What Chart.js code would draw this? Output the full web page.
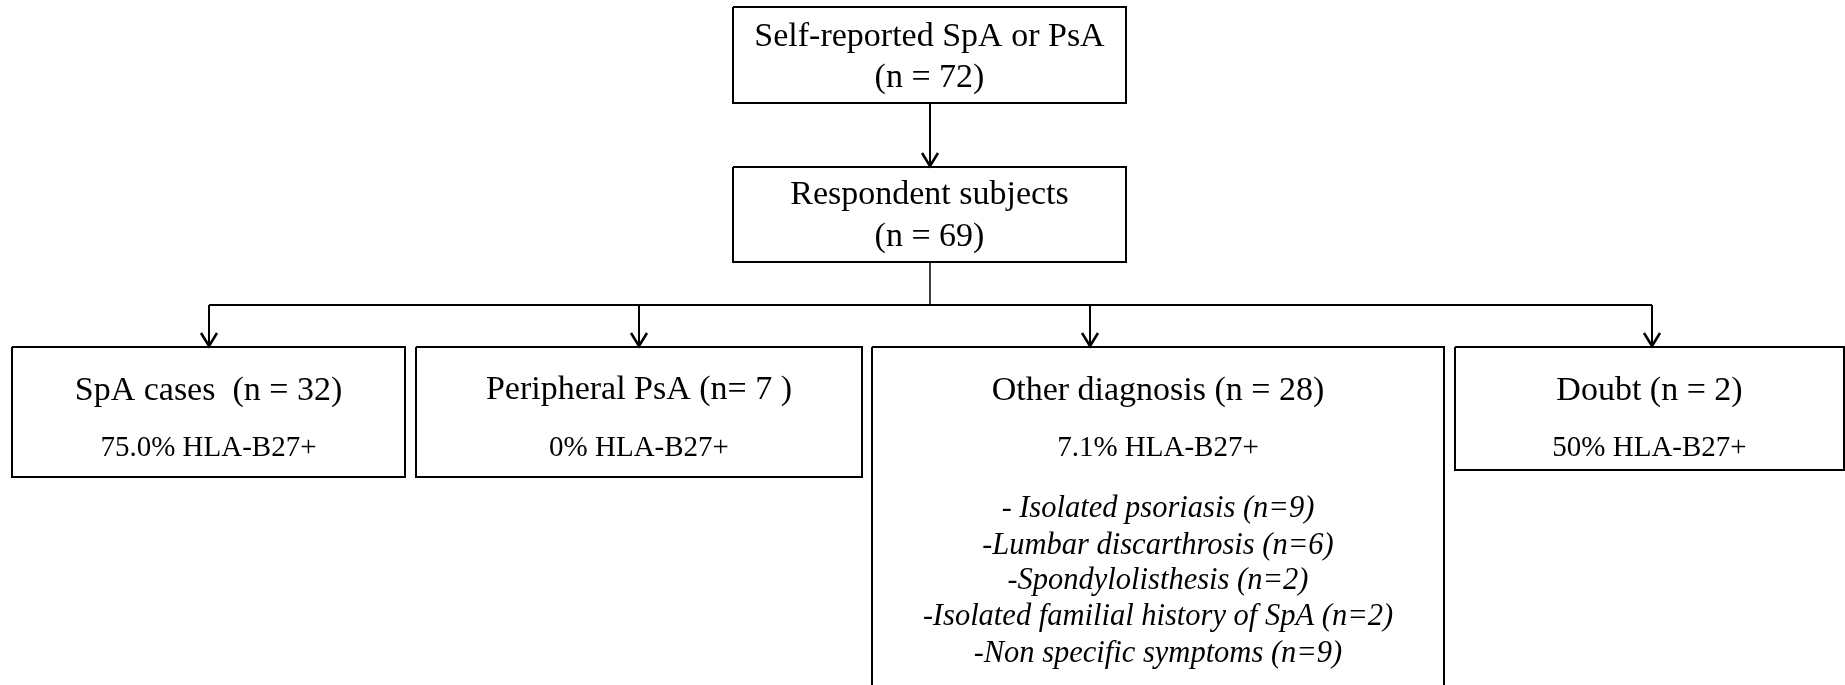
<!DOCTYPE html>
<html>
<head>
<meta charset="utf-8">
<script src="https://cdn.jsdelivr.net/npm/chart.js@4"></script>
<style>
  body { margin: 0; background: #fff; }
  #flow { display: block; }
</style>
</head>
<body>
<canvas id="flow" width="1845" height="685"></canvas>
<script>
const nodeTitles = ['Self-reported SpA or PsA', 'Respondent subjects', 'SpA cases', 'Peripheral PsA', 'Other diagnosis', 'Doubt'];
const nodeCounts = [72, 69, 32, 7, 28, 2];
const hlaB27Pct = [null, null, '75.0', '0', '7.1', '50'];
const otherDiagnoses = ['Isolated psoriasis', 'Lumbar discarthrosis', 'Spondylolisthesis', 'Isolated familial history of SpA', 'Non specific symptoms'];
const otherCounts = [9, 6, 2, 2, 9];

// layout of the boxes (x0, x1, y0, y1 in scale units) and how each label is written
const boxes = [
    { x0: 733, x1: 1126, y0: 7, y1: 103, fmt: (t, n) => [t, '(n = ' + n + ')'], base: [46, 87] },
    { x0: 733, x1: 1126, y0: 167, y1: 262, fmt: (t, n) => [t, '(n = ' + n + ')'], base: [204, 246] },
    { x0: 12, x1: 405, y0: 347, y1: 477, fmt: (t, n) => [t + '  (n = ' + n + ')'], base: [400] },
    { x0: 416, x1: 862, y0: 347, y1: 477, fmt: (t, n) => [t + ' (n= ' + n + ' )'], base: [399] },
    { x0: 872, x1: 1444, y0: 347, y1: 720, fmt: (t, n) => [t + ' (n = ' + n + ')'], base: [400] },
    { x0: 1455, x1: 1844, y0: 347, y1: 470, fmt: (t, n) => [t + ' (n = ' + n + ')'], base: [400] }
];
const arrowX = [209, 639, 1090, 1652];   // where each branch drops into its box
const stemX = 930;
const pctBase = 456;
const listBase = [517, 554, 589, 625, 662];
const busY = 305;

const boxDatasets = boxes.map(b => ({
    data: [{x: b.x0, y: b.y0}, {x: b.x1, y: b.y0}, {x: b.x1, y: b.y1}, {x: b.x0, y: b.y1}, {x: b.x0, y: b.y0}],
    showLine: true, borderColor: '#000', borderWidth: 2, pointRadius: 0, clip: false
}));

const cx = b => (b.x0 + b.x1) / 2;
const lower = boxes.slice(2);
const connectorSets = [
    [{x: stemX, y: boxes[0].y1}, {x: stemX, y: boxes[1].y0}],
    [{x: stemX, y: boxes[1].y1}, {x: stemX, y: busY}],
    [{x: arrowX[0], y: busY}, {x: arrowX[arrowX.length - 1], y: busY}]
];
lower.forEach((b, i) => connectorSets.push([{x: arrowX[i], y: busY}, {x: arrowX[i], y: b.y0}]));
const lineDatasets = connectorSets.map((pts, i) => ({
    data: pts, showLine: true, borderColor: '#000', borderWidth: i === 1 ? 1.5 : 2, pointRadius: 0, clip: false
}));

const flowText = {
    id: 'flowText',
    afterDatasetsDraw(chart) {
        const ctx = chart.ctx;
        const xs = chart.scales.x, ys = chart.scales.y;
        ctx.save();
        ctx.fillStyle = '#000';
        ctx.strokeStyle = '#000';
        ctx.textAlign = 'center';
        ctx.textBaseline = 'alphabetic';

        // arrow heads
        ctx.lineWidth = 2.5;
        const tips = [{x: stemX, y: boxes[1].y0}].concat(lower.map((b, i) => ({x: arrowX[i], y: b.y0})));
        tips.forEach(t => {
            const px = xs.getPixelForValue(t.x), py = ys.getPixelForValue(t.y);
            ctx.beginPath();
            ctx.moveTo(px - 8, py - 14);
            ctx.lineTo(px, py - 1);
            ctx.lineTo(px + 8, py - 14);
            ctx.stroke();
        });

        boxes.forEach((b, i) => {
            const px = xs.getPixelForValue(cx(b));
            const lines = b.fmt(nodeTitles[i], nodeCounts[i]);
            ctx.font = '34px "Liberation Serif"';
            lines.forEach((s, k) => ctx.fillText(s, px, ys.getPixelForValue(b.base[k])));
            if (hlaB27Pct[i] !== null) {
                ctx.font = '29px "Liberation Serif"';
                ctx.fillText(hlaB27Pct[i] + '% HLA-B27+', px, ys.getPixelForValue(pctBase));
            }
        });

        // list of other diagnoses: upright dash, italic text
        const ob = boxes[4];
        const ocx = xs.getPixelForValue(cx(ob));
        ctx.textAlign = 'left';
        otherDiagnoses.forEach((d, k) => {
            const dash = k === 0 ? '- ' : '-';
            const rest = d + ' (n=' + otherCounts[k] + ')';
            ctx.font = '30px "Liberation Serif"';
            const wd = ctx.measureText(dash).width;
            ctx.font = 'italic 30.5px "Liberation Serif"';
            const wr = ctx.measureText(rest).width;
            const x0 = ocx - (wd + wr) / 2;
            const py = ys.getPixelForValue(listBase[k]);
            ctx.font = '30px "Liberation Serif"';
            ctx.fillText(dash, x0, py);
            ctx.font = 'italic 30.5px "Liberation Serif"';
            ctx.fillText(rest, x0 + wd, py);
        });
        ctx.restore();
    }
};

new Chart('flow', {
    type: 'scatter',
    data: { datasets: boxDatasets.concat(lineDatasets) },
    options: {
        responsive: false,
        animation: false,
        events: [],
        layout: { padding: 0 },
        plugins: { legend: { display: false }, tooltip: { enabled: false } },
        scales: {
            x: { type: 'linear', min: 0, max: 1845, display: false },
            y: { type: 'linear', min: 0, max: 685, reverse: true, display: false }
        }
    },
    plugins: [flowText]
});
</script>
</body>
</html>
